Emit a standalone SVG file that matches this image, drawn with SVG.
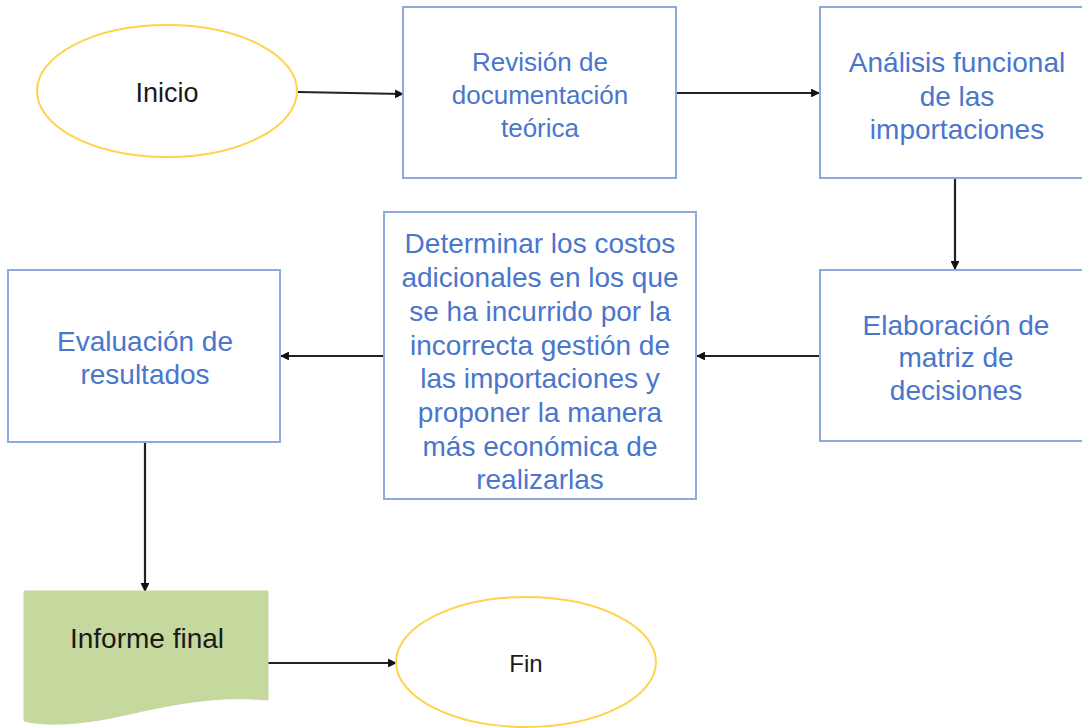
<svg xmlns="http://www.w3.org/2000/svg" width="1082" height="728" viewBox="0 0 1082 728">
<style>
.box{fill:#fff;stroke:#8eaadb;stroke-width:2}
.oval{fill:#fff;stroke:#ffd34d;stroke-width:2}
.bt{font-family:"Liberation Sans",Arial,sans-serif;fill:#4a76cc;text-anchor:middle}
.kt{font-family:"Liberation Sans",Arial,sans-serif;fill:#1a1a1a;text-anchor:middle}
.conn{stroke:#222;stroke-width:2.2;fill:none;marker-end:url(#ah)}
</style>
<defs>
<marker id="ah" viewBox="0 0 10 10" refX="9" refY="5" markerWidth="4" markerHeight="4" orient="auto" markerUnits="strokeWidth">
<path d="M0,0 L10,5 L0,10 Z" fill="#111"/>
</marker>
</defs>
<rect width="1082" height="728" fill="#fff"/>
<g id="connectors">
<line class="conn" x1="298" y1="92" x2="403" y2="94"/>
<line class="conn" x1="677" y1="93" x2="819" y2="93"/>
<line class="conn" x1="955" y1="179" x2="955" y2="269"/>
<line class="conn" x1="820" y1="356" x2="697" y2="356"/>
<line class="conn" x1="384" y1="356" x2="281" y2="356"/>
<line class="conn" x1="145" y1="443" x2="145" y2="591"/>
<line class="conn" x1="268" y1="663" x2="396" y2="663"/>
</g>
<g id="inicio">
<ellipse class="oval" cx="167" cy="91" rx="130" ry="66"/>
<text class="kt" font-size="27" x="167" y="102">Inicio</text>
</g>
<g id="revision">
<rect class="box" x="403" y="7" width="273" height="171"/>
<text class="bt" font-size="26" x="540" y="71">Revisión de</text>
<text class="bt" font-size="26" x="540" y="104">documentación</text>
<text class="bt" font-size="26" x="540" y="137">teórica</text>
</g>
<g id="analisis">
<rect class="box" x="820" y="7" width="270" height="171"/>
<text class="bt" font-size="28" x="957" y="72">Análisis funcional</text>
<text class="bt" font-size="28" x="957" y="106">de las</text>
<text class="bt" font-size="28" x="957" y="139">importaciones</text>
</g>
<g id="elaboracion">
<rect class="box" x="820" y="270" width="270" height="171"/>
<text class="bt" font-size="28" x="956" y="335">Elaboración de</text>
<text class="bt" font-size="28" x="956" y="367">matriz de</text>
<text class="bt" font-size="28" x="956" y="400">decisiones</text>
</g>
<g id="determinar">
<rect class="box" x="384" y="212" width="312" height="287"/>
<text class="bt" font-size="28" x="540" y="253">Determinar los costos</text>
<text class="bt" font-size="28" x="540" y="287">adicionales en los que</text>
<text class="bt" font-size="28" x="540" y="321">se ha incurrido por la</text>
<text class="bt" font-size="28" x="540" y="355">incorrecta gestión de</text>
<text class="bt" font-size="28" x="540" y="388">las importaciones y</text>
<text class="bt" font-size="28" x="540" y="422">proponer la manera</text>
<text class="bt" font-size="28" x="540" y="456">más económica de</text>
<text class="bt" font-size="28" x="540" y="489">realizarlas</text>
</g>
<g id="evaluacion">
<rect class="box" x="8" y="270" width="272" height="172"/>
<text class="bt" font-size="28" x="145" y="351">Evaluación de</text>
<text class="bt" font-size="28" x="145" y="384">resultados</text>
</g>
<g id="informe">
<path d="M24,591 H268 V700 C215,695 170,705 125,715 C85,724 50,727 24,721 Z" fill="#c5d89e" stroke="#c5d89e" stroke-width="1"/>
<text class="kt" font-size="28" x="147" y="648">Informe final</text>
</g>
<g id="fin">
<ellipse class="oval" cx="526" cy="662" rx="130" ry="65"/>
<text class="kt" font-size="24" x="526" y="672">Fin</text>
</g>
</svg>
